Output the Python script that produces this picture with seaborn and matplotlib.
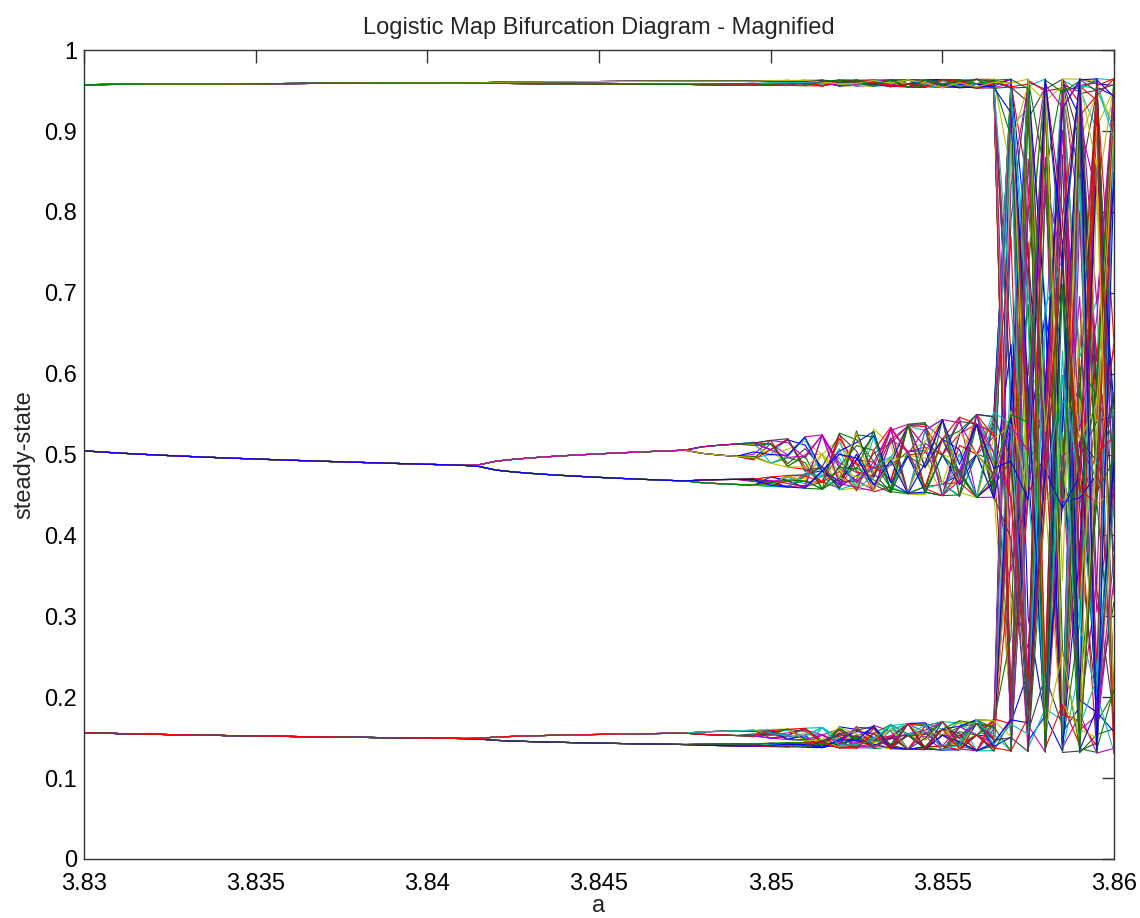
import numpy as np
import pandas as pd
import seaborn as sns
import matplotlib
matplotlib.use("Agg")
import matplotlib.pyplot as plt

# parameter grid (the magnified window of the logistic map)
a_start = 3.83
a_stop = 3.86
a_step = 0.0005
x0 = 0.5
n_transient = 1002     # iterations thrown away
n_keep = 101           # iterations kept (one line each)

x_ticks = [3.83, 3.835, 3.84, 3.845, 3.85, 3.855, 3.86]
x_tick_labels = ["3.83", "3.835", "3.84", "3.845", "3.85", "3.855", "3.86"]
y_ticks = [0, 0.1, 0.2, 0.3, 0.4, 0.5, 0.6, 0.7, 0.8, 0.9, 1]
y_tick_labels = ["0", "0.1", "0.2", "0.3", "0.4", "0.5", "0.6", "0.7", "0.8", "0.9", "1"]

# MATLAB's old default line colour order: b g r c m y k
matlab_colors = [(0, 0, 1), (0, 0.5, 0), (1, 0, 0), (0, 0.75, 0.75),
                 (0.75, 0, 0.75), (0.75, 0.75, 0), (0.25, 0.25, 0.25)]

a = np.round(np.arange(a_start, a_stop + a_step / 2, a_step), 6)

# iterate the logistic map x -> a x (1 - x)
x = np.full(a.shape, x0)
for _ in range(n_transient):
    x = a * x * (1 - x)
rows = []
for k in range(n_keep):
    x = a * x * (1 - x)
    rows.append(pd.DataFrame({"a": a, "x": x, "line": f"L{k:03d}"}))
df = pd.concat(rows, ignore_index=True)

line_names = [f"L{k:03d}" for k in range(n_keep)]
palette = {name: matlab_colors[k % 7] for k, name in enumerate(line_names)}

sns.set_style("white")
plt.rcParams["font.family"] = ["Liberation Sans", "DejaVu Sans"]

fig = plt.figure(figsize=(11.4, 9.18), dpi=100)
ax = fig.add_axes([0.0737, 0.0643, 0.9035, 0.881])

sns.lineplot(data=df, x="a", y="x", hue="line", hue_order=line_names,
             palette=palette, estimator=None, sort=False, legend=False,
             linewidth=0.8, ax=ax)

ax.set_xlim(a_start, a_stop)
ax.set_ylim(0, 1)
ax.set_xticks(x_ticks)
ax.set_xticklabels(x_tick_labels)
ax.set_yticks(y_ticks)
ax.set_yticklabels(y_tick_labels)
ax.tick_params(direction="in", length=9, width=1, color="#333333",
               top=True, right=True, labelsize=17, labelcolor="black")
ax.tick_params(axis="x", pad=10)
ax.tick_params(axis="y", pad=5)
for side in ax.spines.values():
    side.set_color("#333333")
    side.set_linewidth(1)

ax.set_xlabel("a", fontsize=17, labelpad=0)
ax.set_ylabel("steady-state", fontsize=17, labelpad=6)
ax.set_title("Logistic Map Bifurcation Diagram - Magnified", fontsize=17, pad=12)

fig.savefig("out.png", dpi=100, facecolor="white")
